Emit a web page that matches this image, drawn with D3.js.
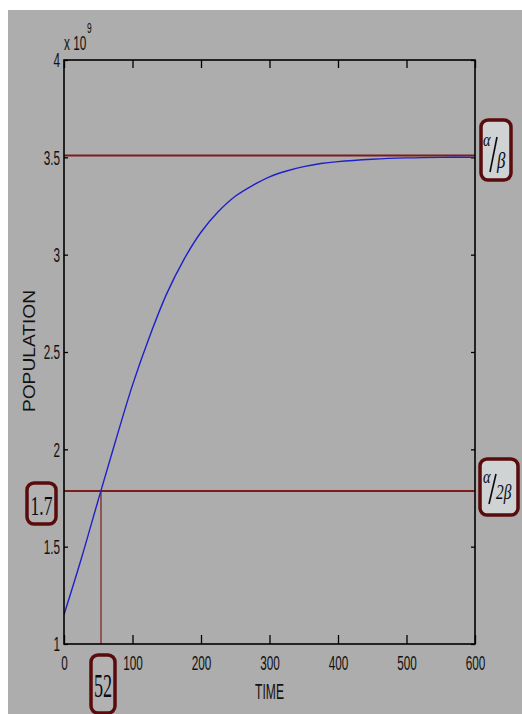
<!DOCTYPE html>
<html><head><meta charset="utf-8">
<script src="https://cdn.jsdelivr.net/npm/d3@7"></script>
<style>html,body{margin:0;padding:0;background:#fff;}svg{display:block;}</style>
</head><body>
<script>
// ---- data ----
const timeValues = [0,25,50,75,100,125,150,175,200,225,250,275,300,325,350,375,400,450,500,550,600];
const populationValues = [1.15,1.435,1.74,2.04,2.33,2.58,2.80,2.975,3.115,3.22,3.30,3.355,3.40,3.43,3.452,3.468,3.478,3.49,3.497,3.50,3.50]; // x 10^9
const xTicks = [0,100,200,300,400,500,600];
const yTicks = [1,1.5,2,2.5,3,3.5,4];
const carryingCapacity = 3.51;   // alpha/beta
const halfCapacity = 1.786;      // alpha/2beta
const inflectionTime = 54;
const halfLabel = "1.7";
const timeLabel = "52";

const W = 522, H = 714;
const M = {left:64, right:475, top:60, bottom:644};
const svg = d3.select("body").append("svg").attr("width",W).attr("height",H);
svg.append("rect").attr("x",8).attr("y",10).attr("width",W-8).attr("height",H-10).attr("fill","#adadad");

const x = d3.scaleLinear().domain([0,600]).range([M.left,M.right]);
const y = d3.scaleLinear().domain([1,4]).range([M.bottom,M.top]);

const FONT = "'Liberation Sans', Arial, sans-serif";
const SX = 0.56;

// axes
const gx = svg.append("g").attr("transform",`translate(0,${M.bottom})`)
  .call(d3.axisBottom(x).tickValues(xTicks).tickSizeInner(-9).tickSizeOuter(0).tickPadding(11).tickFormat(d3.format("d")));
const gxt = svg.append("g").attr("transform",`translate(0,${M.top})`)
  .call(d3.axisTop(x).tickValues(xTicks).tickSizeInner(-8).tickSizeOuter(0).tickFormat(""));
const gy = svg.append("g").attr("transform",`translate(${M.left},0)`)
  .call(d3.axisLeft(y).tickValues(yTicks).tickSizeInner(-4).tickSizeOuter(0).tickPadding(4).tickFormat(d3.format("~g")));
const gyr = svg.append("g").attr("transform",`translate(${M.right},0)`)
  .call(d3.axisRight(y).tickValues(yTicks).tickSizeInner(-4).tickSizeOuter(0).tickFormat(""));
[gx,gxt,gy,gyr].forEach(g=>{
  g.select(".domain").remove();
  g.selectAll("line").attr("stroke","#000").attr("stroke-width",1.3);
  g.selectAll("text").attr("font-family",FONT).attr("font-size",21).attr("fill","#111")
    .attr("transform",`scale(${SX},1)`);
});
gy.selectAll("text").attr("x",-4/SX);

// clip path for data
svg.append("clipPath").attr("id","clip").append("rect")
  .attr("x",M.left).attr("y",M.top).attr("width",M.right-M.left).attr("height",M.bottom-M.top);

const red = "#7e1b1b";
// reference lines
svg.append("line").attr("x1",x(0)).attr("x2",x(600)).attr("y1",y(carryingCapacity)).attr("y2",y(carryingCapacity))
  .attr("stroke",red).attr("stroke-width",2);
svg.append("line").attr("x1",x(0)).attr("x2",x(600)).attr("y1",y(halfCapacity)).attr("y2",y(halfCapacity))
  .attr("stroke",red).attr("stroke-width",2);
svg.append("line").attr("x1",x(inflectionTime)).attr("x2",x(inflectionTime)).attr("y1",y(halfCapacity)).attr("y2",y(1))
  .attr("stroke",red).attr("stroke-width",1.2);

// curve
const line = d3.line().x((d,i)=>x(timeValues[i])).y(d=>y(d)).curve(d3.curveCatmullRom.alpha(0.5));
svg.append("path").datum(populationValues).attr("d",line).attr("clip-path","url(#clip)")
  .attr("fill","none").attr("stroke","#2020c8").attr("stroke-width",1.4);

// frame
svg.append("rect").attr("x",M.left).attr("y",M.top).attr("width",M.right-M.left).attr("height",M.bottom-M.top)
  .attr("fill","none").attr("stroke","#000").attr("stroke-width",1.6);

// helper for condensed text
function txt(x0,y0,str,size,sx,opts={}){
  return svg.append("text").attr("transform",`translate(${x0},${y0}) scale(${sx},${opts.sy||1})`)
    .attr("font-family",opts.family||FONT).attr("font-size",size).attr("fill",opts.fill||"#111")
    .attr("font-weight",opts.weight||"normal")
    .attr("text-anchor",opts.anchor||"start").attr("font-style",opts.style||"normal").text(str);
}

// exponent label
txt(64,50,"x 10",21,SX);
txt(87,33,"9",15,SX);

// axis titles
txt((M.left+M.right)/2,699,"TIME",22,0.55,{anchor:"middle"});
svg.append("text").attr("transform","translate(35,351) rotate(-90) scale(1.2,1)")
  .attr("font-family",FONT).attr("font-size",16).attr("fill","#111").attr("text-anchor","middle").text("POPULATION");

// annotation boxes
function box(x0,y0,w,h,fill){
  svg.append("rect").attr("x",x0).attr("y",y0).attr("width",w).attr("height",h).attr("rx",7)
    .attr("fill",fill).attr("stroke","#5a0b0b").attr("stroke-width",3.5);
}
const SERIF = "'Liberation Serif', 'Times New Roman', serif";
const ink = "#0a0a14";
function slash(x1,y1,x2,y2){
  svg.append("line").attr("x1",x1).attr("y1",y1).attr("x2",x2).attr("y2",y2)
    .attr("stroke",ink).attr("stroke-width",1.6);
}
box(481,120,30,60,"#cfd3d3");
txt(483,146,"α",18,0.8,{family:SERIF,style:"italic",fill:ink});
slash(497,137,490,172);
txt(497,168,"β",24,0.7,{family:SERIF,style:"italic",fill:ink});

box(480,459,38,56,"#cfd3d3");
txt(483,483,"α",18,0.8,{family:SERIF,style:"italic",fill:ink});
slash(496,474,489,504);
txt(496,499,"2β",22,0.7,{family:SERIF,style:"italic",fill:ink});

box(27,483,29,41,"#b2b2b2");
txt(41.5,515,halfLabel,27,0.65,{family:SERIF,anchor:"middle",fill:ink});

box(91,655,24,58,"#b2b2b2");
txt(103,697,timeLabel,33,0.55,{family:SERIF,anchor:"middle",fill:ink});
</script>
</body></html>
